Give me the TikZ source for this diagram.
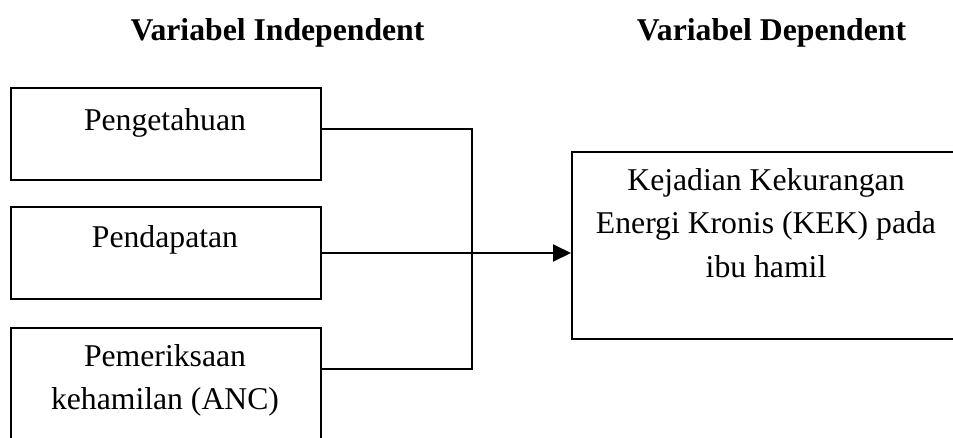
\documentclass[tikz,border=0pt]{standalone}
\usepackage{fontspec}
\setmainfont{Liberation Serif}
\usetikzlibrary{arrows.meta,calc}
\begin{document}
\begin{tikzpicture}[x=1pt,y=-1pt,
  box/.style={draw,line width=2pt,rectangle,inner sep=0pt,anchor=north west},
  txt/.style={anchor=base,inner sep=0pt,font=\fontsize{31.7}{43.5}\selectfont},
  head/.style={anchor=base,inner sep=0pt,font=\fontsize{31.7}{38}\selectfont\bfseries},
  conn/.style={line width=2pt}]
\useasboundingbox (0,0) rectangle (953,437);
\clip (0,0) rectangle (953,437);
% headings
\node[head] (h1) at (277.5,40.7) {Variabel Independent};
\node[head] (h2) at (771.5,40.7) {Variabel Dependent};
% left boxes
\node[box,minimum width=310pt,minimum height=92pt] (b1) at (10,87) {};
\node[box,minimum width=310pt,minimum height=92pt] (b2) at (10,206) {};
\node[box,minimum width=310pt,minimum height=130pt] (b3) at (10,327) {};
\node[txt] (t1) at (165,130) {Pengetahuan};
\node[txt] (t2) at (165,247) {Pendapatan};
\node[txt] (t3a) at (165,366) {Pemeriksaan};
\node[txt] (t3b) at (165,409) {kehamilan (ANC)};
% right box
\node[box,minimum width=392pt,minimum height=187pt] (r) at (571,151) {};
\node[txt] (r1) at (766,190) {Kejadian Kekurangan};
\node[txt] (r2) at (766,233.5) {Energi Kronis (KEK) pada};
\node[txt] (r3) at (766,277) {ibu hamil};
% connectors
\coordinate (c1) at ($(b1.north east)+(0,42)$);
\coordinate (c3) at ($(b3.north east)+(0,42)$);
\coordinate (j) at (471.5,0);
\draw[conn] (c1) -- (j |- c1) -- (j |- c3) -- (c3);
\coordinate (c2) at (b2.east);
\draw[conn,-{Triangle[length=18pt,width=17pt]}] (c2) -- (r.west |- c2);
\end{tikzpicture}
\end{document}
